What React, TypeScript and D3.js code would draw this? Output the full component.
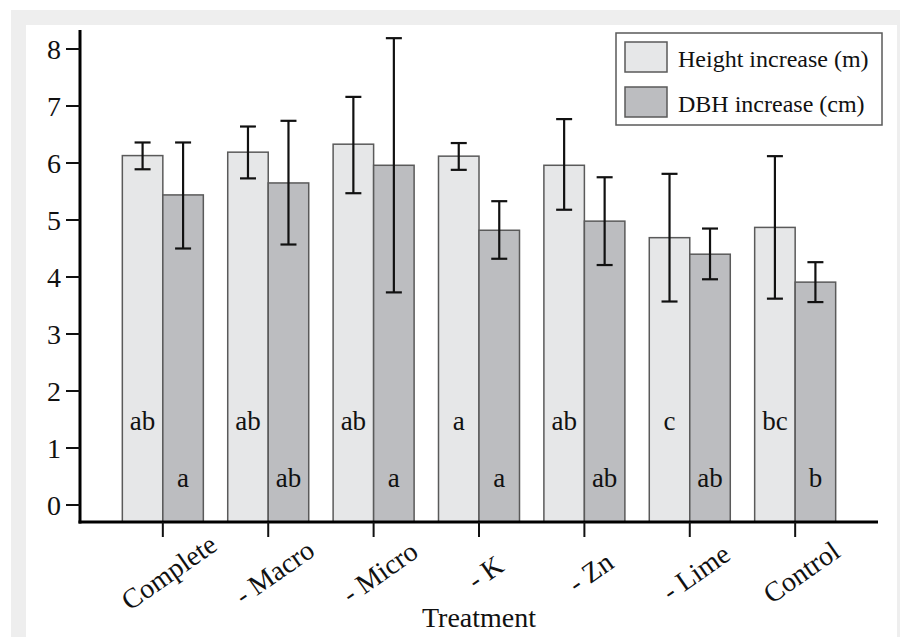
import React, { useEffect, useRef } from "react";
import * as d3 from "d3";

// Treatments along the x axis
const treatments = ["Complete", "- Macro", "- Micro", "- K", "- Zn", "- Lime", "Control"];

// Height increase (m): mean, lower and upper error bar ends
const heightMean = [6.13, 6.19, 6.33, 6.12, 5.96, 4.69, 4.87];
const heightLow = [5.89, 5.73, 5.47, 5.88, 5.18, 3.57, 3.62];
const heightHigh = [6.36, 6.64, 7.16, 6.35, 6.77, 5.81, 6.12];
const heightLetters = ["ab", "ab", "ab", "a", "ab", "c", "bc"];

// DBH increase (cm)
const dbhMean = [5.44, 5.65, 5.96, 4.82, 4.98, 4.4, 3.91];
const dbhLow = [4.5, 4.57, 3.73, 4.32, 4.21, 3.96, 3.56];
const dbhHigh = [6.36, 6.74, 8.19, 5.33, 5.75, 4.85, 4.26];
const dbhLetters = ["a", "ab", "a", "a", "ab", "ab", "b"];

const yTicks = [0, 1, 2, 3, 4, 5, 6, 7, 8];
const seriesNames = ["Height increase (m)", "DBH increase (cm)"];
const seriesColors = ["#e6e7e8", "#bcbdc0"];

const App = () => {
  const ref = useRef<SVGSVGElement>(null);

  useEffect(() => {
    const svg = d3.select(ref.current);
    svg.selectAll("*").remove();

    const font = "'Liberation Serif', 'Times New Roman', serif";
    const axisLeftX = 80;
    const axisRightX = 878;
    const axisY = 522;

    // frame
    svg.append("rect").attr("x", 11).attr("y", 10).attr("width", 900).attr("height", 640).attr("fill", "#eeeeee");
    svg.append("rect").attr("x", 26).attr("y", 25).attr("width", 871).attr("height", 620).attr("fill", "#ffffff");

    const y = d3.scaleLinear().domain([0, 8]).range([505, 49]);

    const x = d3
      .scaleBand()
      .domain(treatments)
      .range([axisLeftX, axisRightX])
      .paddingInner(0)
      .paddingOuter(0.286);

    const barW = 40.5;

    const rows = treatments.map((t, i) => ({
      t,
      vals: [
        { m: heightMean[i], lo: heightLow[i], hi: heightHigh[i], lab: heightLetters[i] },
        { m: dbhMean[i], lo: dbhLow[i], hi: dbhHigh[i], lab: dbhLetters[i] },
      ],
    }));

    const g = svg
      .selectAll(".grp")
      .data(rows)
      .enter()
      .append("g")
      .attr("transform", (d) => `translate(${x(d.t)! + x.bandwidth() / 2},0)`);

    // Bars
    g.selectAll("rect")
      .data((d) => d.vals)
      .enter()
      .append("rect")
      .attr("x", (d, j) => (j === 0 ? -barW : 0))
      .attr("y", (d) => y(d.m))
      .attr("width", barW)
      .attr("height", (d) => axisY - y(d.m))
      .attr("fill", (d, j) => seriesColors[j])
      .attr("stroke", "#5a5a5a")
      .attr("stroke-width", 1.5);

    // Error bars
    const eb = g
      .selectAll(".eb")
      .data((d) => d.vals)
      .enter()
      .append("g")
      .attr("transform", (d, j) => `translate(${j === 0 ? -barW / 2 : barW / 2},0)`)
      .attr("stroke", "#111")
      .attr("stroke-width", 2.2);
    eb.append("line").attr("y1", (d) => y(d.lo)).attr("y2", (d) => y(d.hi));
    eb.append("line").attr("x1", -8).attr("x2", 8).attr("y1", (d) => y(d.lo)).attr("y2", (d) => y(d.lo));
    eb.append("line").attr("x1", -8).attr("x2", 8).attr("y1", (d) => y(d.hi)).attr("y2", (d) => y(d.hi));

    // Letters
    g.selectAll(".lab")
      .data((d) => d.vals)
      .enter()
      .append("text")
      .attr("x", (d, j) => (j === 0 ? -barW / 2 : barW / 2))
      .attr("y", (d, j) => (j === 0 ? 430 : 487))
      .attr("text-anchor", "middle")
      .style("font-family", font)
      .style("font-size", "27px")
      .attr("fill", "#111")
      .text((d) => d.lab);

    // Y axis
    svg.append("line").attr("x1", axisLeftX).attr("x2", axisLeftX).attr("y1", 30).attr("y2", axisY + 1.5)
      .attr("stroke", "#000").attr("stroke-width", 3);
    const yt = svg.selectAll(".yt").data(yTicks).enter().append("g");
    yt.append("line").attr("x1", 66).attr("x2", axisLeftX).attr("y1", (d) => y(d)).attr("y2", (d) => y(d))
      .attr("stroke", "#111").attr("stroke-width", 2);
    yt.append("text")
      .attr("x", 61)
      .attr("y", (d) => y(d))
      .attr("dy", "0.34em")
      .attr("text-anchor", "end")
      .style("font-family", font)
      .style("font-size", "28px")
      .attr("fill", "#111")
      .text((d) => d);

    // X axis
    svg.append("line").attr("x1", axisLeftX - 1.5).attr("x2", axisRightX).attr("y1", axisY).attr("y2", axisY)
      .attr("stroke", "#000").attr("stroke-width", 3);
    const xt = svg.selectAll(".xt").data(treatments).enter().append("g")
      .attr("transform", (d) => `translate(${x(d)! + x.bandwidth() / 2},0)`);
    xt.append("line").attr("y1", axisY).attr("y2", 537).attr("stroke", "#111").attr("stroke-width", 2);
    xt.append("text")
      .attr("transform", "translate(6,572) rotate(-35)")
      .attr("dy", "0.35em")
      .attr("text-anchor", "middle")
      .style("font-family", font)
      .style("font-size", "28px")
      .attr("fill", "#111")
      .text((d) => d);

    svg.append("text")
      .attr("x", x("- K")! + x.bandwidth() / 2)
      .attr("y", 627)
      .attr("text-anchor", "middle")
      .style("font-family", font)
      .style("font-size", "28px")
      .attr("fill", "#111")
      .text("Treatment");

    // Legend
    const lg = svg.append("g");
    lg.append("rect").attr("x", 616).attr("y", 33).attr("width", 266).attr("height", 92)
      .attr("fill", "#fff").attr("stroke", "#5a5a5a").attr("stroke-width", 1.5);
    const li = lg.selectAll(".li").data(seriesNames).enter().append("g")
      .attr("transform", (d, i) => `translate(625,${42 + i * 45})`);
    li.append("rect").attr("width", 42).attr("height", 30)
      .attr("fill", (d, i) => seriesColors[i]).attr("stroke", "#5a5a5a").attr("stroke-width", 1.5);
    li.append("text")
      .attr("x", 53)
      .attr("y", 25)
      .style("font-family", font)
      .style("font-size", "24px")
      .attr("fill", "#111")
      .text((d) => d);
  }, []);

  return (
    <svg
      ref={ref}
      width={900}
      height={637}
      style={{ position: "absolute", left: 0, top: 0, display: "block" }}
    />
  );
};

export default App;
